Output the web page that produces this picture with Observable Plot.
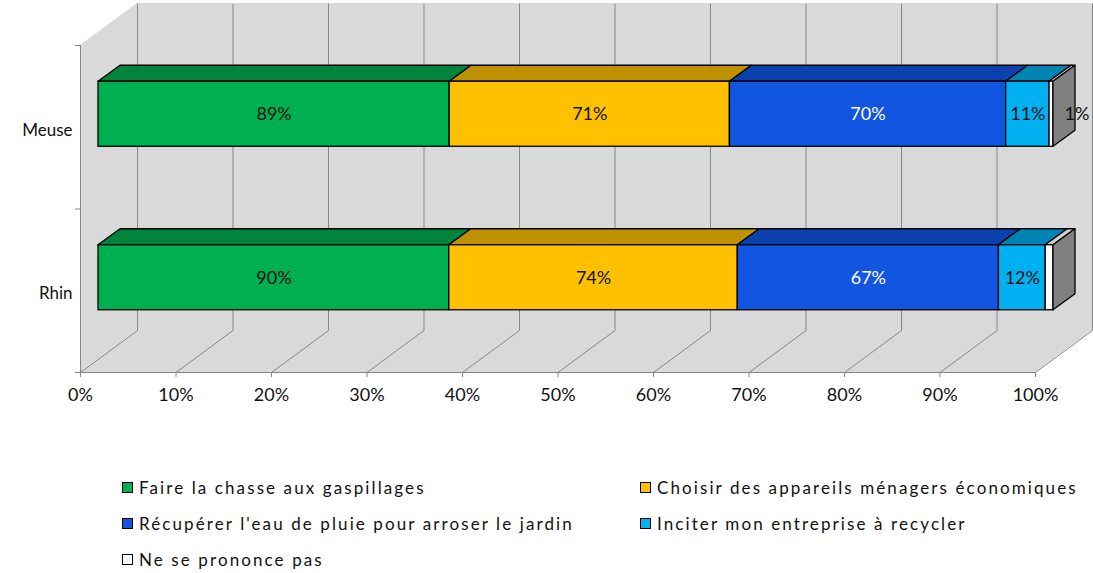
<!DOCTYPE html>
<html>
<head>
<meta charset="utf-8">
<script src="https://cdn.jsdelivr.net/npm/d3@7"></script>
<script src="https://cdn.jsdelivr.net/npm/@observablehq/plot@0.6"></script>
<style>
  body { margin: 0; background: #fff; font-family: Lato, "Open Sans", sans-serif; }
  #chart svg { display: block; }
  #legend { display: grid; grid-template-columns: 518px auto; grid-auto-rows: 36px;
            padding-left: 122px; margin-top: 49px; font-size: 17px; color: #111; letter-spacing: 2.1px; }
  .item { display: flex; align-items: center; white-space: nowrap; }
  .sw { width: 11px; height: 11px; border: 1.3px solid #000; margin-right: 6px; box-sizing: border-box; }
</style>
</head>
<body>
<div id="chart"></div>
<div id="legend"></div>
<script>
// ---- data ----
const categories = ["Meuse", "Rhin"];
const series = [
  "Faire la chasse aux gaspillages",
  "Choisir des appareils ménagers économiques",
  "Récupérer l'eau de pluie pour arroser le jardin",
  "Inciter mon entreprise à recycler",
  "Ne se prononce pas"
];
const meuseValues = [89, 71, 70, 11, 1];
const rhinValues = [90, 74, 67, 12, 2];
const rhinLabelShown = [true, true, true, true, false];
const meuseLabelShown = [true, true, true, true, true];
const xTicks = [0, 10, 20, 30, 40, 50, 60, 70, 80, 90, 100];

// ---- styles ----
const frontColors = ["#00B050", "#FFC000", "#1155E0", "#00B0F0", "#FFFFFF"];
const topColors   = ["#00843C", "#BF9000", "#0C40AC", "#0084B4", "#D0D0D0"];
const sideColor = "#808080";
const labelColors = ["#111", "#111", "#fff", "#111", "#111"];
const wallColor = "#D9D9D9";
const gridColor = "#868686";

// ---- geometry (pixels -> data units) ----
const W = 1093, H = 420, mL = 80, mR = 58, mT = 45, mB = 48;
const ux = 100 / (W - mL - mR);      // x units per pixel
const uy = 2 / (H - mT - mB);        // y units per pixel
const DX = 57 * ux, DY = 42 * uy;    // full depth
const fX = 18 * ux, fY = 13 * uy;    // bar front depth
const bX = 40 * ux, bY = 29 * uy;    // bar back depth
const barH = 65 * uy;

const rows = [
  {cat: "Meuse", idx: 1, values: meuseValues, shown: meuseLabelShown},
  {cat: "Rhin", idx: 0, values: rhinValues, shown: rhinLabelShown}
];

const segs = [];
for (const r of rows) {
  const total = d3.sum(r.values);
  let acc = 0;
  r.values.forEach((v, k) => {
    const x1 = acc / total * 100;
    acc += v;
    const x2 = acc / total * 100;
    const c = r.idx + 0.5;
    segs.push({cat: r.cat, k, v, x1, x2, c, last: k === r.values.length - 1, shown: r.shown[k]});
  });
}

const topPts = segs.flatMap(s => [
  {z: s.cat + s.k, k: s.k, y: s.c + fY + barH / 2, x1: s.x1 + fX, x2: s.x2 + fX},
  {z: s.cat + s.k, k: s.k, y: s.c + bY + barH / 2, x1: s.x1 + bX, x2: s.x2 + bX}
]);
const sidePts = segs.filter(s => s.last).flatMap(s => [
  {z: s.cat, x: s.x2 + fX, y1: s.c + fY - barH / 2, y2: s.c + fY + barH / 2},
  {z: s.cat, x: s.x2 + bX, y1: s.c + bY - barH / 2, y2: s.c + bY + barH / 2}
]);

const leftWall = [{x: 0, y1: 0, y2: 2}, {x: DX, y1: DY, y2: 2 + DY}];
const floor = [{y: 0, x1: 0, x2: 100}, {y: DY, x1: DX, x2: 100 + DX}];

const chart = Plot.plot({
  width: W, height: H,
  marginLeft: mL, marginRight: mR, marginTop: mT, marginBottom: mB,
  x: {domain: [0, 100]},
  y: {domain: [0, 2]},
  color: {type: "identity"},
  style: {fontFamily: "Lato, 'Open Sans', sans-serif", fontSize: "17px", background: "transparent"},
  marks: [
    // walls
    Plot.rect([0], {x1: DX, x2: 100 + DX, y1: DY, y2: 2 + DY, fill: wallColor}),
    Plot.areaY(leftWall, {x: "x", y1: "y1", y2: "y2", fill: wallColor}),
    Plot.areaX(floor, {y: "y", x1: "x1", x2: "x2", fill: wallColor}),
    // gridlines
    Plot.link(xTicks, {x1: t => t + DX, x2: t => t + DX, y1: DY, y2: 2 + DY, stroke: gridColor, strokeWidth: 1}),
    Plot.link(xTicks, {x1: t => t, y1: 0, x2: t => t + DX, y2: DY, stroke: gridColor, strokeWidth: 1}),
    // front axis lines
    Plot.ruleX([0], {y1: 0, y2: 2, stroke: gridColor}),
    Plot.ruleY([0], {x1: 0, x2: 100, stroke: gridColor}),
    Plot.axisY({ticks: [0, 1, 2], tickSize: 5, tickFormat: () => "", stroke: gridColor}),
    Plot.axisY({ticks: [0.5, 1.5], tickSize: 0, tickPadding: 8, dy: 3, fontSize: 17, tickFormat: d => categories[d > 1 ? 0 : 1], fill: "#111"}),
    Plot.axisX({ticks: xTicks, tickSize: 5, tickPadding: 11, fontSize: 18, tickFormat: d => d + "%", stroke: gridColor, fill: "#111"}),
    // bars: top faces
    Plot.areaX(topPts, {y: "y", x1: "x1", x2: "x2", z: "z", fill: d => topColors[d.k], stroke: "#000", strokeWidth: 1.3, strokeLinejoin: "round"}),
    // bars: front faces
    Plot.rect(segs, {x1: d => d.x1 + fX, x2: d => d.x2 + fX, y1: d => d.c + fY - barH / 2, y2: d => d.c + fY + barH / 2,
      fill: d => frontColors[d.k], stroke: "#000", strokeWidth: 1.3}),
    // bars: right side
    Plot.areaY(sidePts, {x: "x", y1: "y1", y2: "y2", z: "z", fill: sideColor, stroke: "#000", strokeWidth: 1.3, strokeLinejoin: "round"}),
    // labels
    Plot.text(segs.filter(s => !s.last && s.shown), {x: d => (d.x1 + d.x2) / 2 + fX, y: d => d.c + fY, text: d => d.v + "%",
      fill: d => labelColors[d.k], fontSize: 18}),
    Plot.text(segs.filter(s => s.last && s.shown), {x: d => d.x2 + fX, y: d => d.c + fY, text: d => d.v + "%",
      dx: 11, textAnchor: "start", fill: "#111", fontSize: 18})
  ]
});
document.getElementById("chart").appendChild(chart);

// legend
const order = [0, 1, 2, 3, 4];
const legend = document.getElementById("legend");
for (const k of order) {
  const it = document.createElement("div");
  it.className = "item";
  it.innerHTML = `<span class="sw" style="background:${frontColors[k]}"></span><span>${series[k]}</span>`;
  legend.appendChild(it);
}
</script>
</body>
</html>
